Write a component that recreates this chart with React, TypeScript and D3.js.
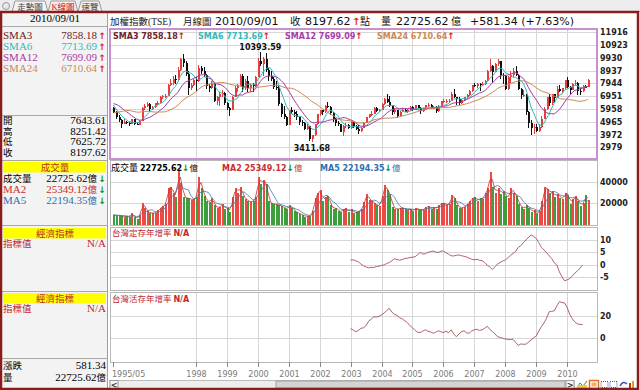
import React, { useEffect, useRef } from 'react';
import * as d3 from 'd3';

// TAIEX monthly, 1995/05 - 2010/09
// closes before 1995/05 only feed the moving averages
const priorCloses = [4300, 4200, 4100, 3900, 4100, 4600, 6070, 6000, 5600, 5300, 5200, 5800,
  5850, 6300, 6600, 6900, 6700, 6500, 7124, 6500, 6300, 6100, 5800];
const priorVolumes = [11000, 9000, 9500, 8500];

const opens = [
  6000, 5700, 5300, 5100, 4780, 4950, 4880, 4800,
  5173, 4800, 4700, 5030, 6000, 6200, 6350, 5950, 6100, 6400, 6450, 6900,
  6934, 7000, 7800, 8000, 8300, 8200, 9000, 9800, 9500, 8700, 7600, 7800,
  8187, 8100, 9100, 8900, 8600, 7700, 7550, 7900, 6550, 6850, 7100, 7200,
  6418, 6000, 5900, 6900, 7600, 7750, 8500, 7550, 8150, 7600, 7800, 7700,
  8449, 9700, 9450, 9850, 9000, 8500, 8250, 7650, 7600, 6350, 5550, 5300,
  4739, 5900, 5700, 5600, 5300, 4950, 4900, 4400, 4600, 3640, 3900, 4750,
  5551, 5850, 5700, 6200, 6100, 5650, 5150, 4900, 4750, 4200, 4600, 4700,
  4452, 4950, 4600, 4400, 4250, 4500, 4900, 5300, 5550, 5600, 6050, 5800,
  5891, 6350, 6750, 6500, 6150, 5750, 5850, 5400, 5750, 5850, 5700, 5850,
  6140, 5990, 6250, 6000, 5800, 6000, 6250, 6300, 6050, 6120, 5760, 6200,
  6548, 6550, 6600, 6600, 7150, 6850, 6700, 6450, 6650, 6880, 7020, 7350,
  7824, 7700, 7900, 7880, 7890, 8150, 8900, 9300, 8850, 9450, 9700, 8600,
  8506, 7520, 8400, 8570, 8900, 8620, 7520, 7020, 7050, 5720, 4870, 4460,
  4591, 4250, 4560, 5210, 5990, 6890, 6430, 7080, 6830, 7510, 7340, 7580,
  8188, 7640, 7440, 7920, 8004, 7374, 7329, 7761, 7643.61,
];
const highs = [
  6080, 5800, 5480, 5150, 5150, 5050, 4950, 5200,
  5200, 4950, 5100, 6100, 6350, 6500, 6400, 6200, 6450, 6550, 6950, 7050,
  7100, 7900, 8300, 8500, 8600, 9200, 9900, 10256, 9700, 8900, 8000, 8300,
  8400, 9378, 9300, 9200, 8700, 7900, 8100, 7950, 7000, 7300, 7400, 7250,
  6500, 6100, 7000, 7700, 7900, 8700, 8700, 8300, 8500, 7900, 8000, 8500,
  9900, 10393.59, 10000, 10300, 9100, 8900, 8400, 8100, 7700, 6400, 6200, 5400,
  5900, 6100, 5900, 5800, 5400, 5100, 4950, 4800, 4650, 3950, 4800, 5600,
  5900, 5900, 6300, 6484, 6200, 5700, 5250, 5000, 4800, 4700, 4900, 4750,
  5000, 5050, 4700, 4700, 4550, 4950, 5300, 5600, 5800, 6100, 6100, 5950,
  6400, 6800, 7135, 7000, 6200, 6000, 5900, 5800, 6000, 6050, 5950, 6150,
  6150, 6300, 6300, 6100, 6050, 6300, 6450, 6350, 6200, 6150, 6250, 6600,
  6750, 6700, 6700, 7250, 7470, 6900, 6900, 6700, 6900, 7100, 7400, 7850,
  7950, 8000, 7950, 8050, 8200, 8950, 9800, 9350, 9500, 9859, 9700, 8750,
  8600, 8500, 8900, 9100, 9309, 8700, 7600, 7400, 7100, 5800, 5100, 4800,
  4800, 4800, 5400, 6100, 6900, 7080, 7100, 7100, 7700, 7820, 7600, 8200,
  8400, 7700, 7950, 8190, 8050, 7550, 7800, 7850, 8251.42,
];
const lows = [
  5620, 5200, 4950, 4474, 4750, 4800, 4600, 4750,
  4700, 4672, 4690, 5000, 5900, 6100, 5800, 5850, 6050, 6250, 6400, 6750,
  6800, 6950, 7750, 7850, 7900, 8150, 8900, 9200, 8500, 7040, 7400, 7700,
  7375, 8050, 8700, 8400, 7500, 7300, 7500, 6500, 6300, 6200, 6900, 6300,
  5900, 5422, 5850, 6850, 7300, 7700, 7300, 7400, 7300, 7300, 7300, 7650,
  8400, 9300, 8500, 8800, 8100, 8100, 7500, 7400, 6200, 5300, 5200, 4600,
  4700, 5600, 5300, 5100, 4700, 4650, 4300, 4300, 3500, 3411.68, 3850, 4700,
  5400, 5500, 5650, 6000, 5500, 4950, 4600, 4600, 4150, 3850, 4450, 4400,
  4400, 4500, 4300, 4044, 4200, 4450, 4850, 5250, 5400, 5550, 5700, 5700,
  5850, 6300, 6400, 6100, 5500, 5550, 5250, 5350, 5700, 5700, 5650, 5800,
  5800, 5950, 5950, 5570, 5700, 5980, 6100, 5950, 5950, 5620, 5750, 6150,
  6450, 6450, 6400, 6580, 6800, 6250, 6250, 6350, 6550, 6800, 6950, 7300,
  7650, 7600, 7350, 7700, 7850, 8100, 8850, 7980, 8800, 9300, 8300, 7900,
  7400, 7450, 7950, 8400, 8500, 7450, 6710, 6900, 5500, 4500, 3955, 4050,
  4150, 4150, 4500, 5150, 5900, 6200, 6300, 6500, 6800, 7300, 7200, 7500,
  7600, 7080, 7430, 7800, 7030, 7030, 7300, 7560, 7625.72,
];
const closes = [
  5700, 5300, 5100, 4780, 4950, 4880, 4800, 5173,
  4800, 4700, 5030, 6000, 6200, 6350, 5950, 6100, 6400, 6450, 6900, 6934,
  7000, 7800, 8000, 8300, 8200, 9000, 9800, 9500, 8700, 7600, 7800, 8187,
  8100, 9100, 8900, 8600, 7700, 7550, 7900, 6550, 6850, 7100, 7200, 6418,
  6000, 5900, 6900, 7600, 7750, 8500, 7550, 8150, 7600, 7800, 7700, 8449,
  9700, 9450, 9850, 9000, 8500, 8250, 7650, 7600, 6350, 5550, 5300, 4739,
  5900, 5700, 5600, 5300, 4950, 4900, 4400, 4600, 3640, 3900, 4750, 5551,
  5850, 5700, 6200, 6100, 5650, 5150, 4900, 4750, 4200, 4600, 4700, 4452,
  4950, 4600, 4400, 4250, 4500, 4900, 5300, 5550, 5600, 6050, 5800, 5891,
  6350, 6750, 6500, 6150, 5750, 5850, 5400, 5750, 5850, 5700, 5850, 6140,
  5990, 6250, 6000, 5800, 6000, 6250, 6300, 6050, 6120, 5760, 6200, 6548,
  6550, 6600, 6600, 7150, 6850, 6700, 6450, 6650, 6880, 7020, 7350, 7824,
  7700, 7900, 7880, 7890, 8150, 8900, 9300, 8850, 9450, 9700, 8600, 8506,
  7520, 8400, 8570, 8900, 8620, 7520, 7020, 7050, 5720, 4870, 4460, 4591,
  4250, 4560, 5210, 5990, 6890, 6430, 7080, 6830, 7510, 7340, 7580, 8188,
  7640, 7440, 7920, 8004, 7374, 7329, 7761, 7616.28, 8197.62,
];
// 成交量 (億)
const volumes = [
  9200, 8600, 8700, 8400, 7600, 8300, 6900, 10600,
  7500, 5800, 9600, 20000, 15500, 12500, 10800, 11000, 11200, 13500, 16000, 17500,
  19000, 34000, 35500, 30000, 26000, 50000, 38500, 26000, 24500, 25000, 23000, 24000,
  26000, 44600, 34000, 27000, 22000, 21000, 25000, 18000, 15500, 17000, 19000, 15000,
  16000, 12000, 26000, 34500, 30000, 35000, 27000, 24000, 22000, 21000, 22500, 26000,
  44600, 38000, 41500, 38000, 22000, 20000, 19000, 19500, 18000, 17500, 16000, 14500,
  18000, 16000, 13000, 11500, 10000, 9500, 7600, 8500, 8000, 13000, 25000, 30000,
  32000, 22000, 26000, 27000, 18000, 15000, 16000, 13000, 12000, 14500, 15500, 12000,
  15000, 11000, 11500, 12500, 15000, 21000, 29000, 23000, 22000, 20000, 18000, 17500,
  27000, 37000, 32000, 27600, 17000, 15000, 14500, 15500, 16000, 14500, 14000, 14500,
  13000, 15500, 14500, 13500, 14000, 16500, 17500, 15000, 16500, 15000, 18000, 20000,
  20500, 18000, 19500, 27500, 25000, 18000, 16000, 15500, 17000, 19500, 22000, 25000,
  26000, 22000, 24500, 24000, 30000, 34000, 49000, 35000, 30000, 34000, 29000, 31000,
  27000, 25000, 34000, 30000, 27000, 19000, 17000, 15000, 18000, 16000, 12000, 13500,
  11000, 12500, 22000, 35500, 33000, 30000, 31000, 26000, 29000, 25000, 24000, 30000,
  28000, 19500, 24000, 26500, 22100, 17900, 20273.51, 27972.62, 22725.62,
];

// 經濟指標, monthly from 2003/01
const indicatorStart = '2003/01';
const fixedDepositYoY = [
  1.9, 2.0, 1.6, 1.2, 0.3, -0.4, -0.9, -1.2, -1.0, -1.1, -0.7, -0.6,
  -0.2, -0.1, 0.5, 0.9, 1.6, 2.4, 2.1, 1.8, 2.1, 2.5, 2.6, 2.9,
  3.0, 3.2, 4.0, 4.9, 4.3, 4.4, 5.0, 5.2, 5.5, 5.1, 4.9, 5.4,
  5.5, 4.8, 4.2, 3.6, 3.5, 3.8, 3.9, 3.6, 3.4, 3.1, 2.6, 2.2,
  2.0, 2.2, 1.8, 1.6, 0.9, -0.2, -0.9, -1.9, -0.8, 0.3, 0.9, 1.5,
  1.9, 2.8, 3.7, 4.5, 5.3, 6.9, 7.6, 8.8, 9.9, 10.9, 11.9, 11.3,
  10.5, 8.8, 7.0, 5.9, 4.9, 3.6, 2.5, 0.8, -0.1, -2.9, -4.8, -6.4,
  -6.0, -5.5, -4.4, -3.3, -2.4, -1.3, -0.1,
];
const demandDepositYoY = [
  8.6, 7.5, 6.0, 7.0, 9.0, 9.5, 11.4, 15.4, 17.2, 19.4, 19.0, 19.6,
  21.0, 22.5, 25.0, 26.8, 23.5, 21.5, 20.6, 18.5, 17.5, 15.8, 14.2, 11.4,
  9.5, 7.2, 5.5, 5.2, 6.5, 7.7, 6.4, 5.8, 4.6, 5.5, 6.8, 5.9,
  5.2, 6.4, 5.0, 7.7, 4.0, 1.5, 3.9, 6.0, 6.8, 5.0, 4.6, 6.7,
  7.7, 8.2, 7.0, 7.7, 9.0, 10.8, 8.0, 6.2, 4.0, 1.5, 0.9, 0.2,
  -0.5, -0.9, -1.0, -0.9, -3.5, -6.2, -5.0, -5.2, -5.2, -3.2, -1.5, 0.6,
  2.2, 6.5, 10.5, 13.8, 18.0, 23.7, 24.2, 24.6, 29.0, 32.9, 32.0, 31.7,
  27.5, 21.5, 17.5, 14.5, 13.0, 12.5, 12.3,
];

const priceTicks = [11916, 10923, 9930, 8937, 7944, 6951, 5958, 4965, 3972, 2979];
const volumeTicks = [40000, 20000];
const fixedTicks = [10, 5, 0, -5];
const demandTicks = [20, 0];
const xTickLabels = ['1995/05', '1998', '1999', '2000', '2001', '2002', '2003', '2004',
  '2005', '2006', '2007', '2008', '2009', '2010'];

const smaPeriods = [3, 6, 12, 24];
const smaNames = ['SMA3', 'SMA6', 'SMA12', 'SMA24'];
const smaLast = ['7858.18', '7713.69', '7699.09', '6710.64'];
const ohlcNames = ['開', '高', '低', '收'];
const ohlcLast = ['7643.61', '8251.42', '7625.72', '8197.62'];
const volNames = ['成交量', 'MA2', 'MA5'];
const volLast = ['22725.62', '25349.12', '22194.35'];

const SANS = '"DejaVu Sans", Verdana, sans-serif';
const SERIF = '"Liberation Serif", "Times New Roman", serif';
const CJK = '"Noto Sans CJK TC", "Noto Sans CJK SC", sans-serif';
// serif first so the CJK glyphs fall back but the line box stays compact
const SERIF_CJK = '"Liberation Serif", "Noto Sans CJK TC", serif';
const RED = '#e02020';
const GREEN = '#109010';
const smaColors = ['#6e2424', '#35b8b8', '#a63aa6', '#c98a55'];
const volColors = ['#000', '#c83030', '#2f6fb0'];

const monthIdx = (s: string) => {
  const [y, m] = s.split('/');
  return (+y - 1995) * 12 + ((m ? +m : 1) - 5);
};

type Part = { t: string; c?: string; f?: string; s?: number; w?: string | number; x?: number };

export default function App() {
  const ref = useRef<SVGSVGElement | null>(null);

  useEffect(() => {
    const svg = d3.select(ref.current);
    svg.selectAll('*').remove();
    const n = closes.length;

    const x = d3.scaleLinear().domain([0, n - 1]).range([113.4, 587.8]);
    const yP = d3.scaleLinear().domain([2979, 11916]).range([147.3, 32.2]);
    const yV = d3.scaleLinear().domain([0, 40000]).range([224.9, 181.7]);
    const yF = d3.scaleLinear().domain([-5, 10]).range([277.3, 239.7]);
    const yD = d3.scaleLinear().domain([0, 20]).range([338.4, 316]);

    const rich = (g: any, px: number, py: number, parts: Part[], anchor = 'start') => {
      const t = g.append('text').attr('x', px).attr('y', py).attr('text-anchor', anchor);
      parts.forEach((p) => {
        const s = t.append('tspan').text(p.t)
          .attr('fill', p.c || '#000')
          .attr('font-family', p.f || SANS)
          .attr('font-size', p.s || 9)
          .attr('font-weight', p.w || 'normal');
        if (p.x !== undefined) s.attr('x', p.x);
      });
      return t;
    };
    const hline = (x1: number, x2: number, yy: number, c: string) =>
      svg.append('line').attr('x1', x1).attr('x2', x2).attr('y1', yy).attr('y2', yy)
        .attr('stroke', c).attr('shape-rendering', 'crispEdges');

    // backgrounds
    svg.append('rect').attr('width', 640).attr('height', 390).attr('fill', '#fff');
    svg.append('rect').attr('width', 640).attr('height', 12).attr('fill', '#ededed');
    svg.append('rect').attr('x', 2).attr('y', 12).attr('width', 105).attr('height', 376).attr('fill', '#f3f3f3');

    // tabs
    svg.append('circle').attr('cx', 6).attr('cy', 6).attr('r', 3.5).attr('fill', '#e8e8e8').attr('stroke', '#999');
    const tabs = [
      { label: '走勢圖', x0: 12, x1: 48, active: false },
      { label: 'K線圖', x0: 48, x1: 78, active: true },
      { label: '速覽', x0: 78, x1: 102, active: false },
    ];
    tabs.forEach((t) => {
      svg.append('path')
        .attr('d', `M${t.x0},12 L${t.x0 + 3},1 L${t.x1 - 3},1 L${t.x1},12`)
        .attr('fill', t.active ? '#fbeaea' : '#f2f2f2').attr('stroke', '#9a9a9a');
      rich(svg, (t.x0 + t.x1) / 2, 10, [{ t: t.label, f: SERIF_CJK, s: 8.5, c: t.active ? '#c02020' : '#444' }], 'middle');
    });
    hline(0, 640, 11.5, '#b0b0b0');

    // ---- left info panel ----
    const lp = svg.append('g');
    rich(lp, 55, 22, [{ t: '2010/09/01', f: SERIF, s: 11 }], 'middle');
    [26, 115, 160, 225.5, 291, 358].forEach((yy) => hline(2, 107, yy, '#a8a8a8'));
    svg.append('line').attr('x1', 107.5).attr('x2', 107.5).attr('y1', 12).attr('y2', 388).attr('stroke', '#a0a0a0');

    smaNames.forEach((nm, i) => {
      const yy = 39 + i * 11;
      rich(lp, 3, yy, [{ t: nm, f: SERIF, s: 11, c: smaColors[i] }]);
      rich(lp, 97, yy, [{ t: smaLast[i], f: SERIF, s: 11, c: smaColors[i] }], 'end');
      rich(lp, 98.5, yy, [{ t: '↑', f: SANS, s: 9, w: 'bold', c: RED }]);
    });
    ohlcNames.forEach((nm, i) => {
      const yy = 124 + i * 10.7;
      rich(lp, 3, yy, [{ t: nm, f: SERIF_CJK, s: 9.5 }]);
      rich(lp, 106, yy, [{ t: ohlcLast[i], f: SERIF, s: 11 }], 'end');
    });

    const yellow = (yy: number, label: string) => {
      lp.append('rect').attr('x', 3).attr('y', yy).attr('width', 103).attr('height', 10.5).attr('fill', '#ffff00');
      rich(lp, 55, yy + 9.3, [{ t: label, f: SERIF_CJK, s: 9.5, c: '#b8302c' }], 'middle');
    };
    yellow(162, '成交量');
    volNames.forEach((nm, i) => {
      const yy = 182 + i * 11;
      rich(lp, 3, yy, [{ t: nm, f: i === 0 ? SERIF_CJK : SERIF, s: i === 0 ? 9.5 : 11, c: volColors[i] }]);
      rich(lp, 97, yy, [{ t: volLast[i], f: SERIF, s: 11, c: volColors[i] }, { t: '億', f: SERIF_CJK, s: 9.5, c: volColors[i] }], 'end');
      rich(lp, 98.5, yy, [{ t: '↓', f: SANS, s: 9, w: 'bold', c: GREEN }]);
    });
    [228, 293].forEach((yy) => {
      yellow(yy, '經濟指標');
      rich(lp, 3, yy + 19, [{ t: '指標值', f: SERIF_CJK, s: 9.5, c: '#c0282c' }]);
      rich(lp, 106, yy + 19, [{ t: 'N/A', f: SERIF, s: 11, c: '#c0282c' }], 'end');
    });
    rich(lp, 3, 369, [{ t: '漲跌', f: SERIF_CJK, s: 9.5 }]);
    rich(lp, 106, 369, [{ t: '581.34', f: SERIF, s: 11 }], 'end');
    rich(lp, 3, 381, [{ t: '量', f: SERIF_CJK, s: 9.5 }]);
    rich(lp, 106, 381, [{ t: '22725.62', f: SERIF, s: 11 }, { t: '億', f: SERIF_CJK, s: 9.5 }], 'end');

    // ---- header ----
    rich(svg, 110, 25, [
      { t: '加權指數(TSE)', f: SERIF_CJK, s: 9.5, c: '#222' },
      { t: '月線圖', f: SERIF_CJK, s: 9.5, c: '#222', x: 183 },
      { t: '2010/09/01', s: 11, c: '#111', x: 215 },
      { t: '收', f: CJK, s: 10.5, c: '#111', x: 290 },
      { t: '8197.62', s: 11, c: '#111', x: 305 },
      { t: '↑', s: 10, w: 'bold', c: RED, x: 352 },
      { t: '點', f: CJK, s: 10, c: '#111', x: 360 },
      { t: '量', f: CJK, s: 10, c: '#111', x: 381 },
      { t: '22725.62', s: 11, c: '#111', x: 396 },
      { t: '億', f: CJK, s: 10, c: '#111', x: 451 },
      { t: '+581.34 (+7.63%)', s: 11, c: '#111', x: 470 },
    ]);

    // ---- panels ----
    const PX0 = 110, PX1 = 597;
    const panels = [
      { top: 29, bottom: 158.5, stroke: '#c890d0', sw: 2 },
      { top: 160.5, bottom: 225.5, stroke: '#b8b8b8', sw: 1 },
      { top: 227, bottom: 290.5, stroke: '#b8b8b8', sw: 1 },
      { top: 292.5, bottom: 362, stroke: '#b8b8b8', sw: 1 },
    ];
    const yearX = xTickLabels.slice(1).map((s) => x(monthIdx(s)));
    const grid = svg.append('g').attr('shape-rendering', 'crispEdges').attr('stroke', '#d6d6d6');
    panels.forEach((p) => {
      yearX.forEach((xx) => grid.append('line').attr('x1', Math.round(xx) + 0.5).attr('x2', Math.round(xx) + 0.5)
        .attr('y1', p.top).attr('y2', p.bottom));
    });
    const hgrid = (scale: any, ticks: number[]) => ticks.forEach((v) =>
      grid.append('line').attr('x1', PX0).attr('x2', PX1)
        .attr('y1', Math.round(scale(v)) + 0.5).attr('y2', Math.round(scale(v)) + 0.5));
    hgrid(yP, priceTicks);
    hgrid(yV, volumeTicks);
    hgrid(yF, fixedTicks);
    hgrid(yD, demandTicks);
    panels.forEach((p) => svg.append('rect').attr('x', PX0).attr('y', p.top)
      .attr('width', PX1 - PX0).attr('height', p.bottom - p.top)
      .attr('fill', 'none').attr('stroke', p.stroke).attr('stroke-width', p.sw).attr('shape-rendering', 'crispEdges'));

    const axisLabels = (scale: any, ticks: number[]) => ticks.forEach((v) =>
      rich(svg, 600, scale(v) + 3, [{ t: String(v), s: 8, w: 'bold', c: '#222' }]));
    axisLabels(yP, priceTicks);
    axisLabels(yV, volumeTicks);
    axisLabels(yF, fixedTicks);
    axisLabels(yD, demandTicks);

    // ---- candles ----
    const idx = d3.range(n);
    const up = (i: number) => closes[i] >= opens[i];
    const cg = svg.append('g').attr('shape-rendering', 'crispEdges');
    cg.selectAll('line').data(idx).join('line')
      .attr('x1', (i) => Math.round(x(i)) + 0.5).attr('x2', (i) => Math.round(x(i)) + 0.5)
      .attr('y1', (i) => yP(highs[i])).attr('y2', (i) => yP(lows[i]))
      .attr('stroke', (i) => (up(i) ? '#e63c3c' : '#111'));
    cg.selectAll('rect').data(idx).join('rect')
      .attr('x', (i) => Math.round(x(i)) - 0.5).attr('width', 2)
      .attr('y', (i) => yP(Math.max(opens[i], closes[i])))
      .attr('height', (i) => Math.max(1, Math.abs(yP(opens[i]) - yP(closes[i]))))
      .attr('fill', (i) => (up(i) ? '#e63c3c' : '#111'));

    // moving averages
    const allCloses = priorCloses.concat(closes);
    const off = priorCloses.length;
    const sma = (p: number) => closes.map((_, i) => d3.mean(allCloses.slice(off + i - p + 1, off + i + 1)) as number);
    const pline = d3.line<number>().x((_, i) => x(i)).y((d) => yP(d));
    smaPeriods.forEach((p, k) => {
      if (k === 0) return; // SMA3 only in the legend
      svg.append('path').attr('d', pline(sma(p))).attr('fill', 'none')
        .attr('stroke', smaColors[k]).attr('stroke-width', 1);
    });

    // legend row of price panel
    const legendX = [113, 198, 285, 377];
    smaNames.forEach((nm, i) => {
      rich(svg, legendX[i], 39, [
        { t: `${nm} `, s: 8, w: 'bold', c: smaColors[i] },
        { t: smaLast[i], s: 8, w: 'bold', c: smaColors[i] },
        { t: '↑', s: 9, w: 'bold', c: RED },
      ]);
    });

    // high / low marks
    const hi = d3.maxIndex(highs);
    const lo = d3.minIndex(lows);
    rich(svg, x(hi), yP(highs[hi]) - 2, [{ t: highs[hi].toFixed(2), s: 8, w: 'bold', c: '#111' }], 'middle');
    rich(svg, x(lo), yP(lows[lo]) + 9.5, [{ t: lows[lo].toFixed(2), s: 8, w: 'bold', c: '#111' }], 'middle');

    // ---- volume ----
    const vg = svg.append('g').attr('shape-rendering', 'crispEdges');
    vg.selectAll('rect').data(idx).join('rect')
      .attr('x', (i) => Math.round(x(i)) - 0.5).attr('width', 2)
      .attr('y', (i) => yV(volumes[i])).attr('height', (i) => yV(0) - yV(volumes[i]))
      .attr('fill', (i) => (up(i) ? '#ee4a44' : '#3e9e3e'));
    const allVol = priorVolumes.concat(volumes);
    const voff = priorVolumes.length;
    const vma = (p: number) => volumes.map((_, i) => d3.mean(allVol.slice(voff + i - p + 1, voff + i + 1)) as number);
    const vline = d3.line<number>().x((_, i) => x(i)).y((d) => yV(d));
    svg.append('path').attr('d', vline(vma(2))).attr('fill', 'none').attr('stroke', '#c83030').attr('stroke-width', 0.8);
    svg.append('path').attr('d', vline(vma(5))).attr('fill', 'none').attr('stroke', '#3a78a8').attr('stroke-width', 0.8);

    const volLegendX = [111, 222, 320];
    volNames.forEach((nm, i) => {
      rich(svg, volLegendX[i], 171, [
        { t: `${nm} `, f: i === 0 ? CJK : SANS, s: i === 0 ? 9 : 8, w: i === 0 ? 'normal' : 'bold', c: volColors[i] },
        { t: volLast[i], s: 8, w: 'bold', c: volColors[i] },
        { t: '↓', s: 9, w: 'bold', c: GREEN },
        { t: '億', f: CJK, s: 8.5, c: volColors[i] },
      ]);
    });

    // ---- indicators ----
    const start = monthIdx(indicatorStart);
    const ind = (vals: number[], scale: any) => svg.append('path')
      .attr('d', d3.line<number>().x((_, j) => x(start + j)).y((d) => scale(d))(vals))
      .attr('fill', 'none').attr('stroke', '#a8505a').attr('stroke-width', 0.9);
    ind(fixedDepositYoY, yF);
    ind(demandDepositYoY, yD);
    rich(svg, 112, 236, [{ t: '台灣定存年增率 ', f: CJK, s: 8.5, c: '#c0282c' }, { t: 'N/A', s: 8, w: 'bold', c: '#c0282c' }]);
    rich(svg, 112, 301.5, [{ t: '台灣活存年增率 ', f: CJK, s: 8.5, c: '#c0282c' }, { t: 'N/A', s: 8, w: 'bold', c: '#c0282c' }]);

    // ---- x axis ----
    xTickLabels.forEach((s, k) => {
      const xx = Math.round(x(monthIdx(s))) + 0.5;
      svg.append('line').attr('x1', xx).attr('x2', xx).attr('y1', 362).attr('y2', 367)
        .attr('stroke', '#888').attr('shape-rendering', 'crispEdges');
      rich(svg, k === 0 ? 112 : xx, 377, [{ t: s, s: 8, c: '#7a7a7a' }], k === 0 ? 'start' : 'middle');
    });

    // ---- scrollbar & tool icons ----
    svg.append('rect').attr('x', 110).attr('y', 380.5).attr('width', 464).attr('height', 8).attr('fill', '#eeeeee').attr('stroke', '#bbb');
    svg.append('rect').attr('x', 110).attr('y', 380.5).attr('width', 8).attr('height', 8).attr('fill', '#f6f6f6').attr('stroke', '#999');
    svg.append('rect').attr('x', 276).attr('y', 381).attr('width', 289).attr('height', 7).attr('fill', '#d4d4d4').attr('stroke', '#a0a0a0');
    svg.append('rect').attr('x', 566).attr('y', 380.5).attr('width', 8).attr('height', 8).attr('fill', '#f6f6f6').attr('stroke', '#999');
    rich(svg, 114, 388, [{ t: '<', s: 8, w: 'bold', c: '#333' }], 'middle');
    rich(svg, 570, 388, [{ t: '>', s: 8, w: 'bold', c: '#333' }], 'middle');
    const ic = svg.append('g');
    ic.append('path').attr('d', 'M577,388 L580,383 L583,386 L587,381').attr('fill', 'none').attr('stroke', '#2a9a2a');
    ic.append('rect').attr('x', 577).attr('y', 385).attr('width', 10).attr('height', 3).attr('fill', '#e8d040');
    ic.append('rect').attr('x', 589.5).attr('y', 380.5).attr('width', 9).attr('height', 8).attr('fill', '#fff').attr('stroke', '#e07020').attr('stroke-width', 1.5);
    ic.append('rect').attr('x', 591.5).attr('y', 382.5).attr('width', 5).attr('height', 4).attr('fill', '#f4b060');
    [601, 610].forEach((xx) => ic.append('rect').attr('x', xx).attr('y', 381.5).attr('width', 7).attr('height', 6)
      .attr('fill', 'none').attr('stroke', '#3050c0').attr('stroke-dasharray', '1,1'));
    ic.append('path').attr('d', 'M620,386 Q623,380 627,384').attr('fill', 'none').attr('stroke', '#3050c0').attr('stroke-width', 1.5);
    ic.append('rect').attr('x', 629).attr('y', 383).attr('width', 2).attr('height', 6).attr('fill', '#c03020');
    ic.append('rect').attr('x', 632).attr('y', 381).attr('width', 2).attr('height', 8).attr('fill', '#e0a020');

    // outer frame
    svg.append('rect').attr('x', 1).attr('y', 12).attr('width', 637).attr('height', 377)
      .attr('fill', 'none').attr('stroke', '#8a1c1c').attr('stroke-width', 2.5);
  }, []);

  return (
    <div style={{ position: 'fixed', left: 0, top: 0 }}>
      <svg ref={ref} width={640} height={390} style={{ display: 'block' }} />
    </div>
  );
}
